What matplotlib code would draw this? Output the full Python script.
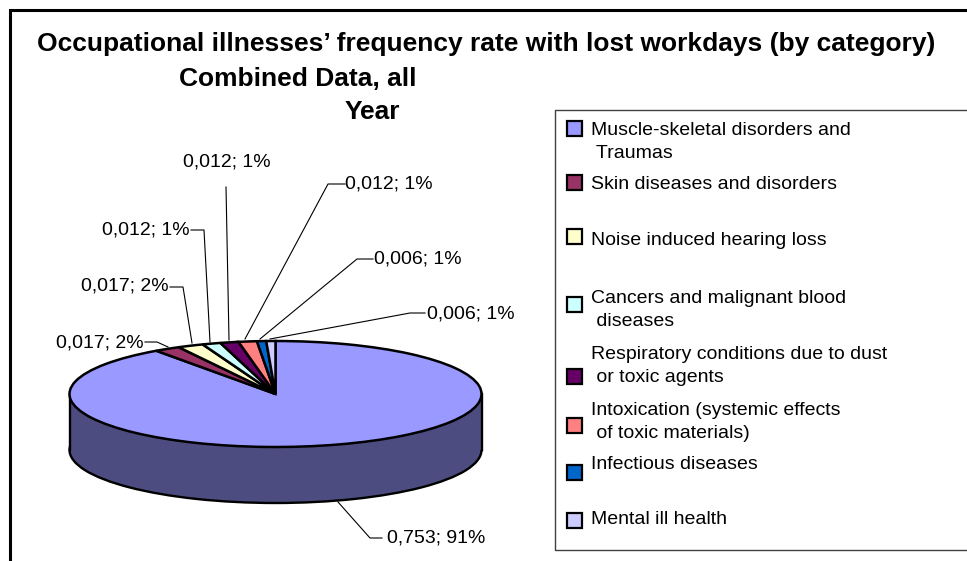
import matplotlib
matplotlib.use('Agg')
import matplotlib.pyplot as plt
from matplotlib.patches import Rectangle

plt.rcParams['font.family'] = ['Liberation Sans', 'DejaVu Sans']

values = [0.753, 0.017, 0.017, 0.012, 0.012, 0.012, 0.006, 0.006]
percents = [91, 2, 2, 1, 1, 1, 1, 1]
colors = ['#9999FF', '#993366', '#FFFFCC', '#CCFFFF', '#660066', '#FF8080', '#0066CC', '#CCCCFF']
categories = ['Muscle-skeletal disorders and\n Traumas',
              'Skin diseases and disorders',
              'Noise induced hearing loss',
              'Cancers and malignant blood\n diseases',
              'Respiratory conditions due to dust\n or toxic agents',
              'Intoxication (systemic effects\n of toxic materials)',
              'Infectious diseases',
              'Mental ill health']
title_lines = ['Occupational illnesses\u2019 frequency rate with lost workdays (by category)',
               'Combined Data, all',
               'Year']

W, H = 967, 561
cx, cy, rx, ry, depth = 275.5, 394, 206, 53, 56

fig = plt.figure(figsize=(W / 100, H / 100), dpi=100)

# pie axes: unit circle squashed into the ellipse of the 3d look
ax = fig.add_axes([0, 0, 1, 1])
side = '#4C4C80'
d = depth / ry
ax.pie([1], colors=[side], center=(0, -d), radius=1, wedgeprops=dict(edgecolor='black', linewidth=1.7))
ax.add_patch(Rectangle((-1, -d), 2, d, facecolor=side, edgecolor='none', zorder=2))
ax.plot([-1, -1], [0, -d], color='black', lw=1.7, zorder=3)
ax.plot([1, 1], [0, -d], color='black', lw=1.7, zorder=3)
wedges, _ = ax.pie(values, colors=colors, startangle=90, counterclock=False, radius=1,
                   wedgeprops=dict(edgecolor='black', linewidth=1.8))
for w in wedges:
    w.set_zorder(4)
ax.set_aspect('auto')
ax.set_xlim(-cx / rx, (W - cx) / rx)
ax.set_ylim((cy - H) / ry, cy / ry)
ax.axis('off')

# overlay in pixel coordinates for frame, labels and legend
ov = fig.add_axes([0, 0, 1, 1], facecolor='none')
ov.set_xlim(0, W)
ov.set_ylim(H, 0)
ov.axis('off')

ov.plot([10, 10, W], [H, 10, 10], color='black', lw=2.2, solid_joinstyle='miter')

title_pos = [(37, 44), (179, 79), (345, 112)]
for line, (x, y) in zip(title_lines, title_pos):
    ov.text(x, y, line, fontsize=19, fontweight='bold', va='center', ha='left')

# data labels with leader lines, same order as values but skipping the big slice
label_pos = [(56, 343), (81, 286), (102, 230), (183, 162), (345, 184), (374, 259), (427, 314)]
leaders = [[(145, 342), (157, 342), (168, 347)],
           [(170, 287), (183, 287), (192, 343)],
           [(191, 230), (204, 230), (210, 342)],
           [(226, 187), (229, 340)],
           [(345, 184), (328, 184), (245, 339)],
           [(373, 259), (357, 259), (260, 339)],
           [(425, 313), (410, 313), (270, 339)]]
for i in range(1, len(values)):
    txt = '%.3f; %d%%' % (values[i], percents[i])
    x, y = label_pos[i - 1]
    ov.text(x, y, txt.replace('.', ','), fontsize=14, va='center', ha='left')
    ov.plot(*zip(*leaders[i - 1]), color='black', lw=0.8)
ov.plot([382, 370, 338], [538, 538, 502], color='black', lw=0.8)
ov.text(387, 538, ('%.3f; %d%%' % (values[0], percents[0])).replace('.', ','),
        fontsize=14, va='center', ha='left')

# legend box
ov.plot([W, 555, 555, W], [110, 110, 550, 550], color='#404040', lw=1)
text_y = [142, 184, 240, 310, 366, 422, 464, 520]
marker_y = [128, 182, 236, 304, 376, 425, 472, 520]
for name, col, ty, my in zip(categories, colors, text_y, marker_y):
    ov.add_patch(Rectangle((567, my - 7.5), 15, 15, facecolor=col, edgecolor='black', lw=1.6))
    ov.text(591, ty, name, fontsize=14, va='center', ha='left', linespacing=1.45)

fig.savefig('out.png', dpi=100)
